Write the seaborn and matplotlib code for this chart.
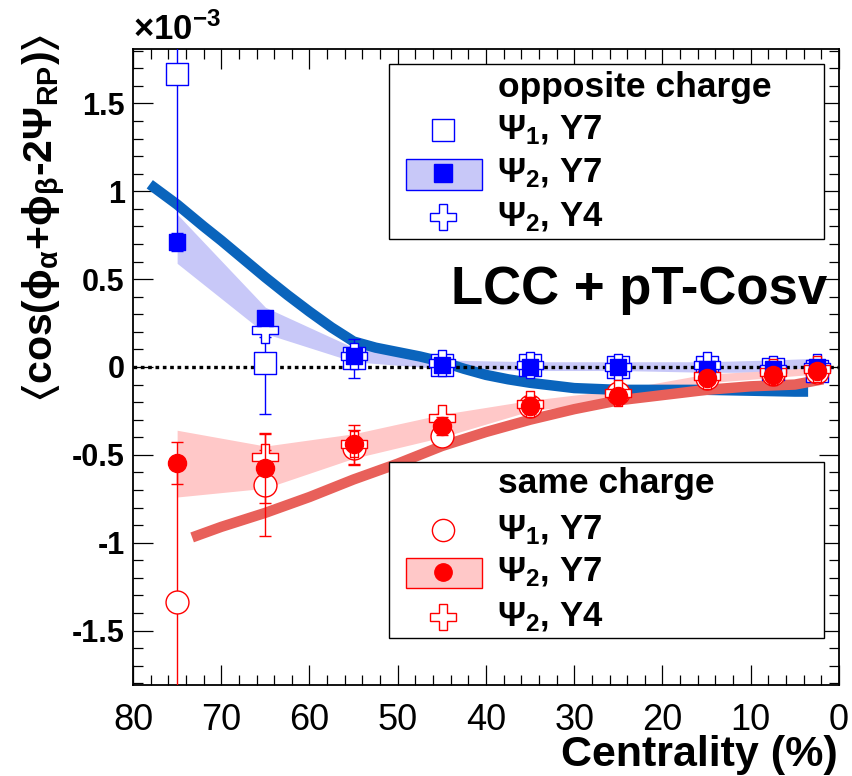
import numpy as np
import pandas as pd
import matplotlib
matplotlib.use("Agg")
import matplotlib.pyplot as plt
from matplotlib.patches import Rectangle
from matplotlib.ticker import MultipleLocator, FuncFormatter
import seaborn as sns

# ---------------- data (values in units of 1e-3) ----------------
centrality = [75, 65, 55, 45, 35, 25, 15, 7.5, 2.5]

# opposite charge
os_psi1_y7 = [1.67, 0.02, 0.05, 0.01, 0.01, 0.0, 0.0, -0.01, -0.02]
os_psi1_y7_err = [0.95, 0.29, 0.11, 0.04, 0.03, 0.03, 0.03, 0.03, 0.03]
os_psi2_y7 = [0.71, 0.28, 0.06, 0.01, 0.0, 0.0, -0.01, -0.01, 0.0]
os_psi2_y7_err = [0.05, 0.03, 0.02, 0.01, 0.01, 0.01, 0.01, 0.01, 0.01]
os_band_lo = [0.59, 0.19, 0.03, -0.01, -0.02, -0.02, -0.03, -0.03, -0.03]
os_band_hi = [0.87, 0.34, 0.11, 0.04, 0.03, 0.03, 0.03, 0.04, 0.05]
os_psi2_y4 = [np.nan, 0.21, 0.06, 0.02, 0.01, 0.0, 0.01, -0.01, 0.0]
os_psi2_y4_err = [np.nan, 0.04, 0.03, 0.02, 0.02, 0.02, 0.02, 0.02, 0.02]

# same charge
ss_psi1_y7 = [-1.34, -0.67, -0.46, -0.39, -0.22, -0.15, -0.06, -0.04, -0.03]
ss_psi1_y7_err = [0.8, 0.29, 0.1, 0.05, 0.04, 0.03, 0.03, 0.03, 0.03]
ss_psi2_y7 = [-0.545, -0.575, -0.44, -0.335, -0.22, -0.165, -0.06, -0.045, -0.02]
ss_psi2_y7_err = [0.12, 0.2, 0.11, 0.05, 0.05, 0.03, 0.03, 0.03, 0.03]
ss_band_lo = [-0.74, -0.69, -0.52, -0.40, -0.25, -0.19, -0.09, -0.06, -0.04]
ss_band_hi = [-0.36, -0.45, -0.38, -0.27, -0.19, -0.13, -0.04, -0.02, 0.0]
ss_psi2_y4 = [np.nan, -0.51, -0.44, -0.29, -0.21, -0.15, -0.05, -0.03, -0.01]
ss_psi2_y4_err = [np.nan, 0.04, 0.03, 0.02, 0.02, 0.02, 0.02, 0.02, 0.02]

# model curves (LCC + pT-Cosv)
model_os_x = [78.1, 75, 72, 70, 67.5, 65, 62.5, 60, 57.5, 55, 52.5, 50, 47.5, 45,
              42.5, 40, 37.5, 35, 30, 25, 20, 15, 10, 5, 3.5]
model_os_y = [1.04, 0.925, 0.80, 0.72, 0.615, 0.51, 0.41, 0.315, 0.225, 0.145, 0.11,
              0.085, 0.06, 0.03, -0.01, -0.045, -0.07, -0.09, -0.12, -0.13, -0.13,
              -0.13, -0.135, -0.14, -0.14]
model_ss_x = [73.3, 70, 65, 60, 55, 50, 45, 40, 35, 30, 25, 20, 15, 10, 5, 1.8]
model_ss_y = [-0.97, -0.91, -0.83, -0.74, -0.64, -0.55, -0.45, -0.37, -0.30, -0.24,
              -0.19, -0.16, -0.13, -0.11, -0.10, -0.07]

# ---------------- style ----------------
sns.set_theme(style="ticks")
plt.rcParams["font.family"] = ["Liberation Sans", "DejaVu Sans"]
plt.rcParams["text.color"] = "black"
plt.rcParams["axes.labelcolor"] = "black"
plt.rcParams["xtick.color"] = "black"
plt.rcParams["ytick.color"] = "black"
plt.rcParams["xtick.labelcolor"] = "black"
plt.rcParams["ytick.labelcolor"] = "black"
plt.rcParams["mathtext.fontset"] = "custom"
plt.rcParams["mathtext.rm"] = "Liberation Sans:bold"
plt.rcParams["mathtext.it"] = "Liberation Sans:bold"
plt.rcParams["mathtext.bf"] = "Liberation Sans:bold"
plt.rcParams["mathtext.default"] = "bf"
plt.rcParams["mathtext.fallback"] = "stixsans"

BLUE = "#0000ff"
RED = "#ff0000"
BLUE_BAND = "#c8c8f8"
RED_BAND = "#ffc8c8"
BLUE_MODEL = "#0a64bc"
RED_MODEL = "#e8605a"

fig = plt.figure(figsize=(8.53, 7.76), dpi=100)
ax = fig.add_axes([133/853, 1-685/776, 706/853, 636/776])

x = np.array(centrality)

# bands
ax.fill_between(x, os_band_lo, os_band_hi, color=BLUE_BAND, lw=0, zorder=1)
ax.fill_between(x, ss_band_lo, ss_band_hi, color=RED_BAND, lw=0, zorder=1)

# model curves
sns.lineplot(x=model_os_x, y=model_os_y, ax=ax, color=BLUE_MODEL, lw=7.5,
             sort=False, estimator=None, zorder=2, solid_capstyle="butt",
             solid_joinstyle="round")
sns.lineplot(x=model_ss_x, y=model_ss_y, ax=ax, color=RED_MODEL, lw=7.5,
             sort=False, estimator=None, zorder=2, solid_capstyle="butt",
             solid_joinstyle="round")

# zero line
ax.axhline(0, color="black", lw=2.4, ls=(0, (1.1, 1.1)), zorder=3)

def series(y, err, color, marker, ms, filled, z):
    ax.errorbar(x, y, yerr=err, fmt="none", ecolor=color, elinewidth=1.0,
                capsize=4, capthick=1.0, zorder=z)
    sns.scatterplot(x=x, y=y, ax=ax, marker=marker, s=ms**2,
                    facecolor=(color if filled else "white"), edgecolor=color,
                    linewidth=1.0, zorder=z + 0.5, legend=False)

series(os_psi1_y7, os_psi1_y7_err, BLUE, "s", 16, False, 4)
series(ss_psi1_y7, ss_psi1_y7_err, RED, "o", 16.5, False, 4)
series(os_psi2_y4, os_psi2_y4_err, BLUE, "P", 19, False, 5)
series(ss_psi2_y4, ss_psi2_y4_err, RED, "P", 19, False, 5)
series(os_psi2_y7, os_psi2_y7_err, BLUE, "s", 12, True, 6)
series(ss_psi2_y7, ss_psi2_y7_err, RED, "o", 13, True, 6)

# axes
ax.set_xlim(80, 0)
ax.set_ylim(-1.81, 1.81)
ax.xaxis.set_major_locator(MultipleLocator(10))
ax.xaxis.set_minor_locator(MultipleLocator(2))
ax.yaxis.set_major_locator(MultipleLocator(0.5))
ax.yaxis.set_minor_locator(MultipleLocator(0.1))
ax.yaxis.set_major_formatter(FuncFormatter(lambda v, p: f"{v:g}" if abs(v) > 1e-9 else "0"))
ax.xaxis.set_major_formatter(FuncFormatter(lambda v, p: f"{v:g}"))
ax.tick_params(which="both", direction="in", top=True, right=True, width=0.9,
               color="black", labelcolor="black")
ax.tick_params(which="major", length=14.5)
ax.tick_params(which="minor", length=7.2)
ax.tick_params(axis="x", which="major", labelsize=26, pad=13)
ax.tick_params(axis="y", which="major", labelsize=22, pad=6)
for lab in ax.get_yticklabels():
    lab.set_fontweight("bold")
for s in ax.spines.values():
    s.set_linewidth(1.3)
    s.set_color("black")
ax.set_xlabel("")
ax.set_ylabel("")

fig.text(838/853, 1-755/776, "Centrality (%)", ha="right", va="center",
         fontsize=31, fontweight="bold", color="black")
fig.text(45/853, 1-34/776,
         r"$\langle$cos($\phi_{\alpha}$+$\phi_{\beta}$-2$\Psi_{RP}$)$\rangle$",
         rotation=90, ha="center", va="top", fontsize=29.5, fontweight="bold",
         color="black")
ax.text(0.0, 1.003, r"$\times$10$^{-3}$", transform=ax.transAxes, ha="left",
        va="bottom", fontsize=25, fontweight="bold", color="black")

ax.text(0.984, 0.621, "LCC + pT-Cosv", transform=ax.transAxes, ha="right",
        va="center", fontsize=38, fontweight="bold", zorder=8, color="black")

# manual legends
def legend_box(y0, y1, header_y, rows, band_y, color, band_color, marker_open,
               marker_filled, header):
    ax.add_patch(Rectangle((0.3626, y0), 0.9788-0.3626, y1-y0, transform=ax.transAxes,
                           facecolor="white", edgecolor="black", lw=1.0, zorder=9))
    ax.text(0.517, header_y, header, transform=ax.transAxes, ha="left", va="center",
            fontsize=25.5, fontweight="bold", zorder=10, color="black")
    mx = 0.4391
    ax.add_patch(Rectangle((0.3867, band_y[0]), 0.4943-0.3867, band_y[1]-band_y[0],
                           transform=ax.transAxes, facecolor=band_color, edgecolor=color,
                           lw=1.0, zorder=10))
    ax.plot([mx], [rows[0]], marker=marker_open, ms=16, mfc="white", mec=color, mew=1.0,
            transform=ax.transAxes, zorder=11, clip_on=False)
    ax.plot([mx], [rows[1]], marker=marker_filled, ms=12.5, mfc=color, mec=color, mew=1.0,
            transform=ax.transAxes, zorder=11, clip_on=False)
    ax.plot([mx], [rows[2]], marker="P", ms=19, mfc="white", mec=color, mew=1.0,
            transform=ax.transAxes, zorder=11, clip_on=False)
    labels = [r"$\Psi_{1}$, Y7", r"$\Psi_{2}$, Y7", r"$\Psi_{2}$, Y4"]
    for r, lab in zip(rows, labels):
        ax.text(0.5156, r, lab, transform=ax.transAxes, ha="left", va="center",
                fontsize=25, fontweight="bold", zorder=10, color="black")

legend_box(0.7013, 0.9764, 0.940, [0.8726, 0.8050, 0.7358], (0.7783, 0.8270),
           BLUE, BLUE_BAND, "s", "s", "opposite charge")
legend_box(0.0739, 0.3506, 0.3176, [0.2437, 0.1777, 0.1069], (0.1525, 0.1997),
           RED, RED_BAND, "o", "o", "same charge")

fig.savefig("out.png", dpi=100)
